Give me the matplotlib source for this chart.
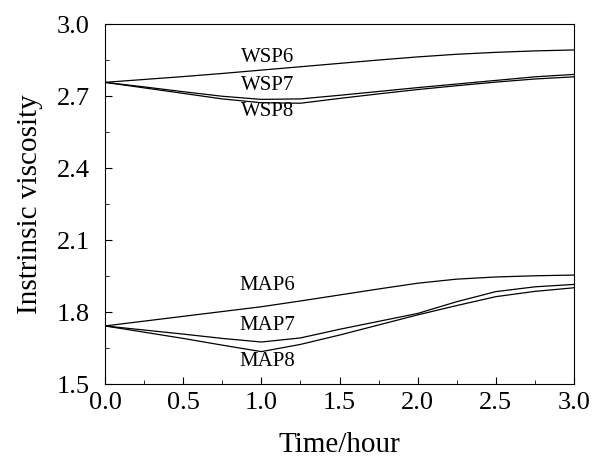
import numpy as np
import matplotlib.pyplot as plt

plt.rcParams['font.family'] = ['Liberation Serif', 'DejaVu Serif']

# Time (hours) and intrinsic viscosity
time = [0.0, 0.25, 0.5, 0.75, 1.0, 1.25, 1.5, 1.75, 2.0, 2.25, 2.5, 2.75, 3.0]

wsp6 = [2.757, 2.769, 2.781, 2.794, 2.808, 2.822, 2.836, 2.850, 2.863, 2.874, 2.882, 2.888, 2.892]
wsp7 = [2.757, 2.738, 2.718, 2.699, 2.686, 2.688, 2.703, 2.719, 2.735, 2.750, 2.765, 2.780, 2.790]
wsp8 = [2.757, 2.734, 2.711, 2.688, 2.672, 2.670, 2.690, 2.709, 2.727, 2.743, 2.758, 2.771, 2.780]

map6 = [1.742, 1.762, 1.782, 1.802, 1.822, 1.846, 1.871, 1.896, 1.920, 1.937, 1.946, 1.951, 1.954]
map7 = [1.742, 1.725, 1.708, 1.690, 1.675, 1.692, 1.728, 1.761, 1.794, 1.843, 1.885, 1.905, 1.915]
map8 = [1.742, 1.716, 1.690, 1.662, 1.635, 1.665, 1.704, 1.746, 1.788, 1.827, 1.864, 1.886, 1.901]

series = [wsp6, wsp7, wsp8, map6, map7, map8]
names = ['WSP6', 'WSP7', 'WSP8', 'MAP6', 'MAP7', 'MAP8']
label_y = [2.86, 2.742, 2.635, 1.91, 1.742, 1.593]

fig = plt.figure(figsize=(5.95, 4.62), dpi=100)
ax = fig.add_axes([0.1765, 0.1688, 0.7882, 0.7792])

for y in series:
    ax.plot(time, y, color='black', lw=0.9)

for name, ly in zip(names, label_y):
    ax.text(1.04, ly, name, ha='center', va='center', fontsize=15)

ax.set_xlim(0, 3.0)
ax.set_ylim(1.5, 3.0)
ax.set_xticks(np.arange(0, 3.01, 0.5))
ax.set_xticks(np.arange(0, 3.01, 0.25), minor=True)
ax.set_yticks(np.arange(1.5, 3.01, 0.3))
ax.set_yticks(np.arange(1.5, 3.01, 0.15), minor=True)
ax.tick_params(which='both', direction='in', top=False, right=False, labelsize=19)
ax.tick_params(which='major', length=5)
ax.tick_params(which='minor', length=3)
ax.tick_params(axis='x', pad=6)
ax.tick_params(axis='y', pad=11)
ax.yaxis.set_major_formatter(plt.FormatStrFormatter('%.1f'))
ax.xaxis.set_major_formatter(plt.FormatStrFormatter('%.1f'))

ax.set_xlabel('Time/hour', fontsize=21, labelpad=13)
ax.set_ylabel('Instrinsic viscosity', fontsize=21, labelpad=10)

fig.savefig('out.png', dpi=100)
